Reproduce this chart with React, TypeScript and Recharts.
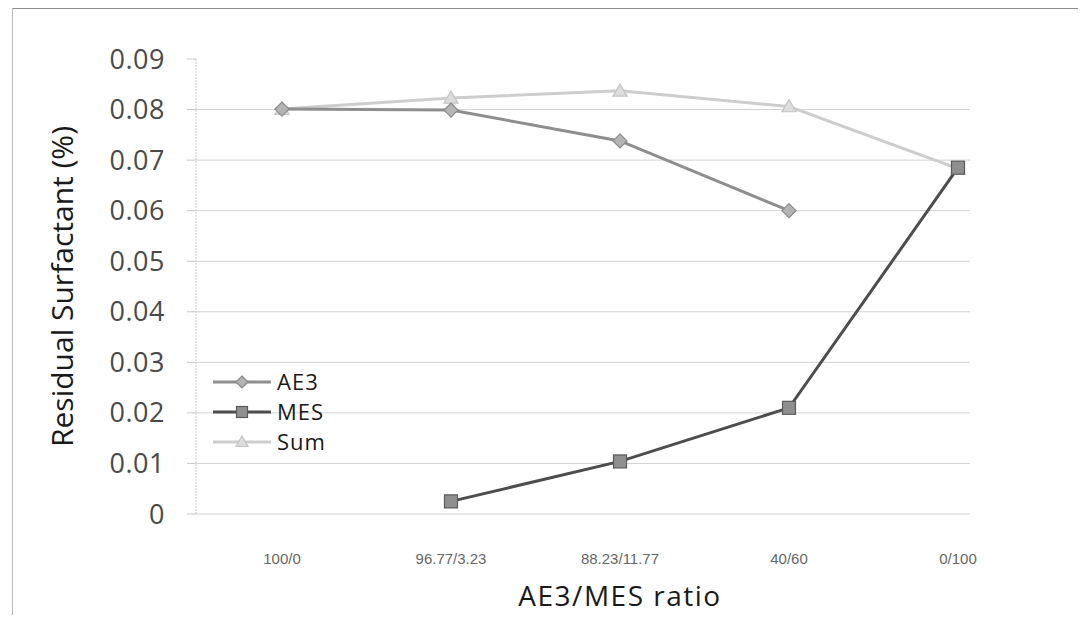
import React from "react";
import { LineChart, Line, XAxis, YAxis, CartesianGrid, Legend, ReferenceLine } from "recharts";

// Category labels along the horizontal axis (AE3/MES mixing ratios)
const ratios = ["100/0", "96.77/3.23", "88.23/11.77", "40/60", "0/100"];

// Residual surfactant (%) per ratio; null where a component is absent
const ae3Values = [0.0801, 0.0799, 0.0738, 0.06, null];
const mesValues = [null, 0.0025, 0.0104, 0.021, 0.0685];
const sumValues = [0.0801, 0.0823, 0.0837, 0.0806, 0.0683];

// Value-axis ticks and the grid values that carry a horizontal line
const yTicks = [0, 0.01, 0.02, 0.03, 0.04, 0.05, 0.06, 0.07, 0.08, 0.09];
const gridValues = [0, 0.01, 0.02, 0.03, 0.04, 0.05, 0.06, 0.07, 0.08];

const seriesNames = ["AE3", "MES", "Sum"];

const data = ratios.map((r, i) => ({
  ratio: r,
  AE3: ae3Values[i],
  MES: mesValues[i],
  Sum: sumValues[i],
}));

const STYLE: Record<string, { line: string; fill: string; stroke: string; width: number; shape: string }> = {
  AE3: { line: "#8e8e8e", fill: "#b4b4b4", stroke: "#8a8a8a", width: 3, shape: "diamond" },
  MES: { line: "#4d4d4d", fill: "#8f8f8f", stroke: "#5a5a5a", width: 3, shape: "square" },
  Sum: { line: "#cdcdcd", fill: "#dcdcdc", stroke: "#c4c4c4", width: 3, shape: "triangle" },
};

function Marker({ cx, cy, name, size = 7 }: { cx: number; cy: number; name: string; size?: number }) {
  const s = STYLE[name];
  if (s.shape === "diamond") {
    return (
      <polygon
        points={`${cx},${cy - size} ${cx + size},${cy} ${cx},${cy + size} ${cx - size},${cy}`}
        fill={s.fill}
        stroke={s.stroke}
        strokeWidth={1.2}
      />
    );
  }
  if (s.shape === "square") {
    return (
      <rect x={cx - size + 0.5} y={cy - size + 0.5} width={2 * size - 1} height={2 * size - 1} fill={s.fill} stroke={s.stroke} strokeWidth={1.2} />
    );
  }
  return (
    <polygon
      points={`${cx},${cy - size} ${cx + size},${cy + size * 0.75} ${cx - size},${cy + size * 0.75}`}
      fill={s.fill}
      stroke={s.stroke}
      strokeWidth={1.2}
    />
  );
}

const makeDot = (name: string) => (props: any) => {
  const { cx, cy, index, value } = props;
  if (cx == null || cy == null || value == null) return <g key={`${name}-${index}`} />;
  return (
    <g key={`${name}-${index}`}>
      <Marker cx={cx} cy={cy} name={name} />
    </g>
  );
};

const renderLegend = () => (
  <svg width={160} height={110} style={{ overflow: "visible", display: "block" }}>
    {seriesNames.map((n, i) => {
      const y = 14 + i * 30;
      const s = STYLE[n];
      return (
        <g key={n}>
          <line x1={2} x2={60} y1={y} y2={y} stroke={s.line} strokeWidth={s.width} />
          <Marker cx={31} cy={y} name={n} size={6} />
          <text x={66} y={y + 8} fontFamily="Open Sans" fontSize={22} letterSpacing={1} fill="#1a1a1a">
            {n}
          </text>
        </g>
      );
    })}
  </svg>
);

export default function App() {
  return (
    <div style={{ position: "relative", width: 1070, height: 607, background: "#fff" }}>
      <div style={{ position: "absolute", left: 4, top: 0, width: 1066, height: 1, background: "#8e8e8e" }} />
      <div style={{ position: "absolute", left: 4, top: 0, width: 1, height: 607, background: "#b8b8b8" }} />
      <LineChart
        width={1070}
        height={607}
        data={data}
        margin={{ top: 51, right: 108, bottom: 0, left: 20 }}
      >
        <CartesianGrid horizontal={false} vertical={false} />
        {gridValues.map((v) => (
          <ReferenceLine key={v} y={v} stroke="#d2d2d2" strokeWidth={1} ifOverflow="extendDomain" />
        ))}
        <XAxis
          dataKey="ratio"
          height={101}
          padding={{ left: 86, right: 12 }}
          axisLine={false}
          tickLine={false}
          tickMargin={33}
          tick={{ fontFamily: "Liberation Sans", fontSize: 15, fill: "#666" }}
          label={{
            value: "AE3/MES ratio",
            position: "insideBottom",
            offset: 9,
            dx: 37,
            fontFamily: "Open Sans",
            fontSize: 28,
            letterSpacing: 1.5,
            fill: "#1a1a1a",
          }}
        />
        <YAxis
          width={168}
          domain={[0, 0.09]}
          ticks={yTicks}
          interval={0}
          axisLine={{ stroke: "#c8c8c8", strokeDasharray: "2 1" }}
          tickLine={{ stroke: "#c8c8c8" }}
          tickSize={9}
          tickMargin={22}
          tick={{ fontFamily: "Open Sans", fontSize: 27, letterSpacing: 0.5, fill: "#4a4a4a" }}
          tickFormatter={(v: number) => (v === 0 ? "0" : String(Math.round(v * 100) / 100))}
          label={{
            value: "Residual Surfactant (%)",
            angle: -90,
            position: "insideLeft",
            offset: 34,
            style: { textAnchor: "middle" },
            fontFamily: "Open Sans",
            fontSize: 30,
            fill: "#1a1a1a",
          }}
        />
        <Legend
          layout="vertical"
          verticalAlign="middle"
          align="center"
          wrapperStyle={{ left: 203, top: 360, width: 160, height: 110 }}
          content={renderLegend}
        />
        <Line
          type="linear"
          dataKey="Sum"
          stroke={STYLE.Sum.line}
          strokeWidth={3}
          dot={makeDot("Sum")}
          activeDot={false}
          isAnimationActive={false}
        />
        <Line
          type="linear"
          dataKey="AE3"
          stroke={STYLE.AE3.line}
          strokeWidth={3}
          dot={makeDot("AE3")}
          activeDot={false}
          isAnimationActive={false}
        />
        <Line
          type="linear"
          dataKey="MES"
          stroke={STYLE.MES.line}
          strokeWidth={3}
          dot={makeDot("MES")}
          activeDot={false}
          isAnimationActive={false}
        />
      </LineChart>
    </div>
  );
}
